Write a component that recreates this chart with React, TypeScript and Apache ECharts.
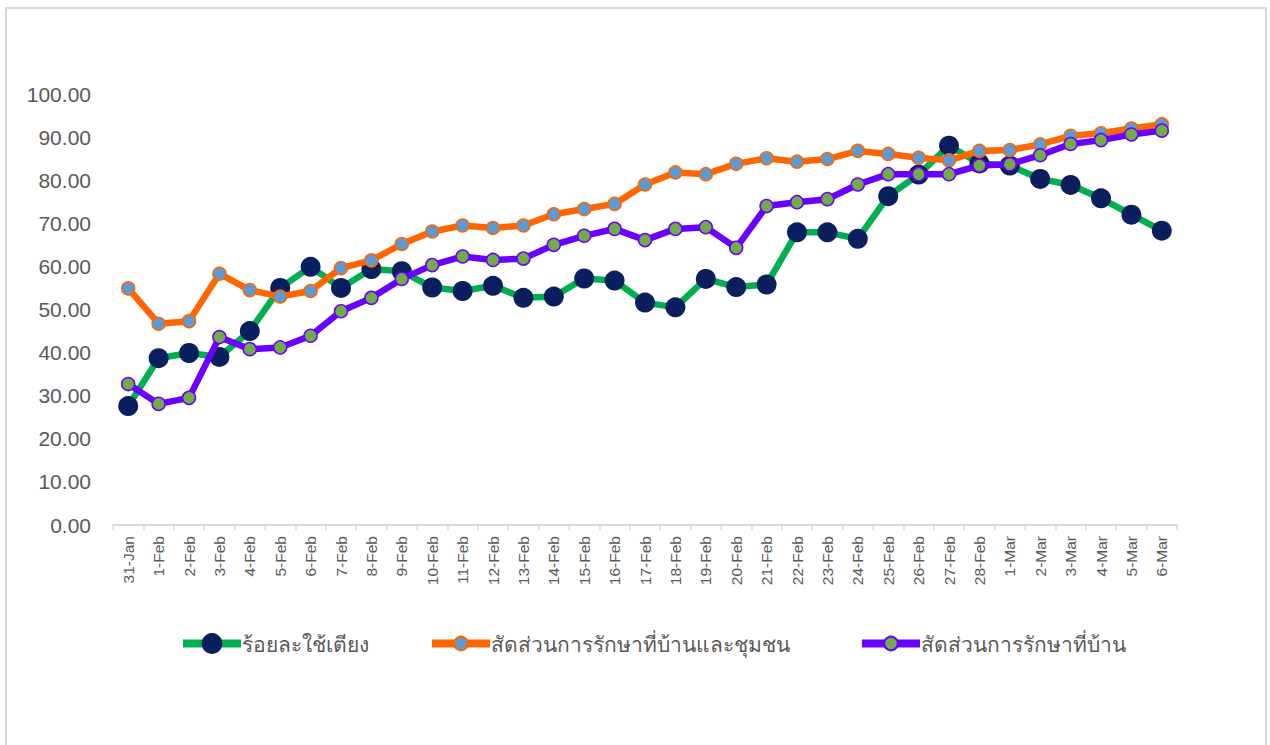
import React, { useEffect, useRef } from "react";
import * as echarts from "echarts";

const categories = [
  "31-Jan", "1-Feb", "2-Feb", "3-Feb", "4-Feb", "5-Feb", "6-Feb", "7-Feb", "8-Feb", "9-Feb",
  "10-Feb", "11-Feb", "12-Feb", "13-Feb", "14-Feb", "15-Feb", "16-Feb", "17-Feb", "18-Feb", "19-Feb",
  "20-Feb", "21-Feb", "22-Feb", "23-Feb", "24-Feb", "25-Feb", "26-Feb", "27-Feb", "28-Feb",
  "1-Mar", "2-Mar", "3-Mar", "4-Mar", "5-Mar", "6-Mar",
];

const bedRate = [
  27.6, 38.7, 39.9, 39.0, 45.0, 55.0, 59.9, 55.0, 59.4, 58.9,
  55.1, 54.3, 55.5, 52.7, 53.0, 57.2, 56.7, 51.6, 50.5, 57.1,
  55.2, 55.8, 67.9, 67.9, 66.4, 76.3, 81.3, 88.0, 83.9,
  83.4, 80.3, 78.9, 75.8, 72.0, 68.3,
];

const homeCommunity = [
  54.9, 46.7, 47.3, 58.3, 54.5, 53.0, 54.3, 59.6, 61.4, 65.2,
  68.1, 69.5, 68.9, 69.5, 72.1, 73.3, 74.5, 79.0, 81.8, 81.4,
  83.8, 85.1, 84.3, 84.9, 86.8, 86.1, 85.2, 84.6, 86.8,
  87.0, 88.3, 90.3, 90.9, 92.0, 93.0,
];

const homeOnly = [
  32.7, 28.1, 29.5, 43.6, 40.8, 41.2, 43.9, 49.6, 52.7, 57.1,
  60.3, 62.3, 61.5, 61.8, 65.0, 67.1, 68.7, 66.1, 68.7, 69.1,
  64.3, 74.0, 74.9, 75.6, 79.0, 81.4, 81.4, 81.4, 83.4,
  83.7, 85.8, 88.4, 89.3, 90.6, 91.5,
];

const seriesNames = [
  "ร้อยละใช้เตียง",
  "สัดส่วนการรักษาที่บ้านและชุมชน",
  "สัดส่วนการรักษาที่บ้าน",
];

export default function App() {
  const ref = useRef<HTMLDivElement>(null);
  useEffect(() => {
    if (!ref.current) return;
    const chart = echarts.init(ref.current, null, { renderer: "svg" });
    const legendText = {
      fontSize: 21,
      color: "#595959",
      fontFamily: "'Noto Sans', sans-serif",
      padding: [0, 0, 0, -4],
    };
    chart.setOption({
      animation: false,
      backgroundColor: "#ffffff",
      graphic: [
        {
          type: "rect",
          shape: { x: 6, y: 8, width: 1260, height: 760 },
          style: { fill: "none", stroke: "#d9d9d9", lineWidth: 2 },
          silent: true,
        },
      ],
      grid: { left: 113, right: 93, top: 94, bottom: 220, containLabel: false },
      legend: [
        {
          data: [seriesNames[0]],
          left: 174,
          top: 628,
          itemWidth: 58,
          itemHeight: 26,
          lineStyle: { width: 8 },
          textStyle: legendText,
        },
        {
          data: [seriesNames[1]],
          left: 423,
          top: 628,
          itemWidth: 58,
          itemHeight: 17,
          lineStyle: { width: 8 },
          textStyle: legendText,
        },
        {
          data: [seriesNames[2]],
          left: 853,
          top: 628,
          itemWidth: 58,
          itemHeight: 17,
          lineStyle: { width: 8 },
          textStyle: legendText,
        },
      ],
      xAxis: {
        type: "category",
        data: categories,
        boundaryGap: true,
        axisLine: { show: true, lineStyle: { color: "#d9d9d9", width: 2 } },
        axisTick: { show: true, alignWithLabel: false, length: 5, lineStyle: { color: "#d9d9d9", width: 1.5 } },
        axisLabel: {
          rotate: 90,
          interval: 0,
          fontSize: 15.5,
          color: "#595959",
          fontFamily: "'Liberation Sans', Arial, sans-serif",
          margin: 11,
        },
        splitLine: { show: false },
      },
      yAxis: {
        type: "value",
        min: 0,
        max: 100,
        interval: 10,
        axisLine: { show: false },
        axisTick: { show: false },
        splitLine: { show: false },
        axisLabel: {
          formatter: (v: number) => v.toFixed(2),
          fontSize: 21,
          color: "#595959",
          fontFamily: "'Liberation Sans', Arial, sans-serif",
          margin: 22,
        },
      },
      series: [
        {
          name: seriesNames[0],
          type: "line",
          data: bedRate,
          symbol: "circle",
          symbolSize: 20,
          lineStyle: { color: "#00b050", width: 6.5 },
          itemStyle: { color: "#0b1f5e", borderColor: "#0b1f5e", borderWidth: 0 },
          z: 2,
        },
        {
          name: seriesNames[1],
          type: "line",
          data: homeCommunity,
          symbol: "circle",
          symbolSize: 13,
          lineStyle: { color: "#ff6600", width: 6.5 },
          itemStyle: { color: "#5b9bd5", borderColor: "#ff6600", borderWidth: 1.5 },
          z: 3,
        },
        {
          name: seriesNames[2],
          type: "line",
          data: homeOnly,
          symbol: "circle",
          symbolSize: 13,
          lineStyle: { color: "#6a00ff", width: 6.5 },
          itemStyle: { color: "#70ad47", borderColor: "#6a00ff", borderWidth: 1.5 },
          z: 4,
        },
      ],
    });
    return () => chart.dispose();
  }, []);
  return (
    <div
      ref={ref}
      style={{ position: "fixed", left: 0, top: 0, width: 1270, height: 745 }}
    />
  );
}
